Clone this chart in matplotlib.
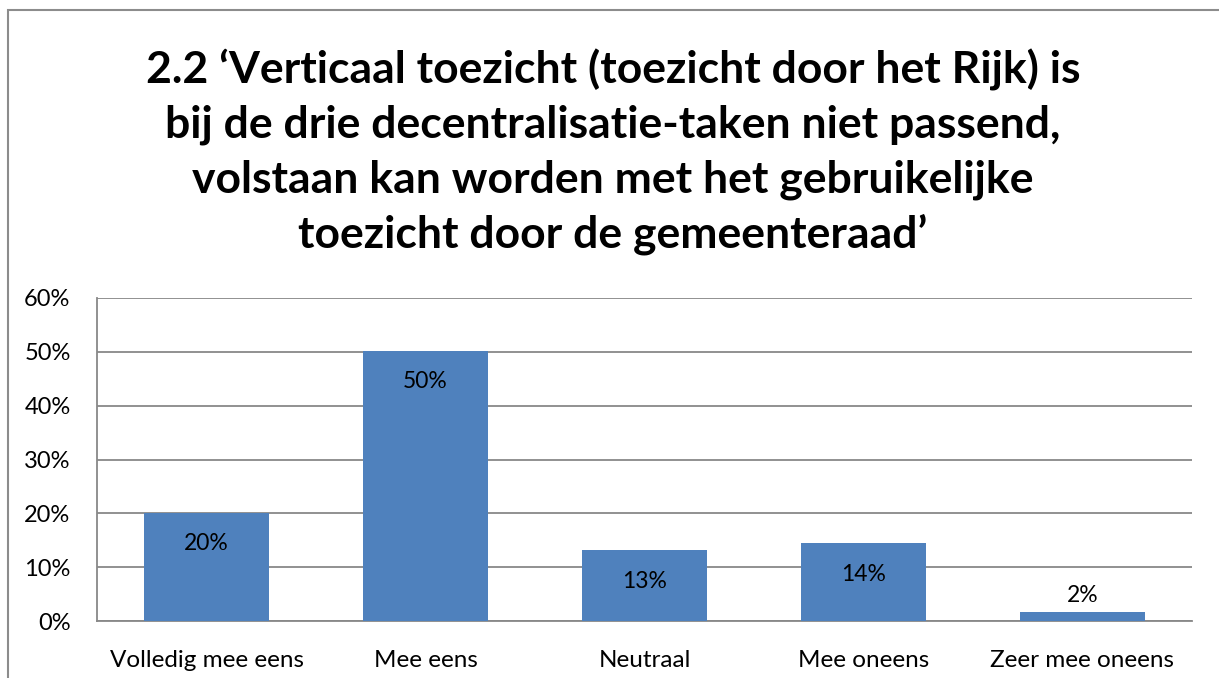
import matplotlib
matplotlib.use("Agg")
import matplotlib.pyplot as plt
from matplotlib.patches import Rectangle

categories = ["Volledig mee eens", "Mee eens", "Neutraal", "Mee oneens", "Zeer mee oneens"]
values = [20.1, 50.2, 13.1, 14.4, 1.7]
labels = ["20%", "50%", "13%", "14%", "2%"]
yticks = [0, 10, 20, 30, 40, 50, 60]
title = ("2.2 \u2018Verticaal toezicht (toezicht door het Rijk) is\n"
         "bij de drie decentralisatie-taken niet passend,\n"
         "volstaan kan worden met het gebruikelijke\n"
         "toezicht door de gemeenteraad\u2019")

plt.rcParams['font.family'] = ['Lato', 'DejaVu Sans']
W, H = 1219, 678
fig = plt.figure(figsize=(W / 100, H / 100), dpi=100)

# outer chart frame
fig.patches.append(Rectangle((8 / W, -0.1), 1.2, (H - 10) / H + 0.1, transform=fig.transFigure,
                             fill=False, edgecolor="#8c8c8c", linewidth=1.5))

left, right, top, bottom = 97, 1192, 298, 621
ax = fig.add_axes([left / W, 1 - bottom / H, (right - left) / W, (bottom - top) / H])
x = range(len(categories))
ax.bar(x, values, width=0.57, color="#4F81BD", zorder=3)
ax.set_xlim(-0.5, len(categories) - 0.5)
ax.set_ylim(0, 60)
ax.set_yticks(yticks)
ax.set_yticklabels([f"{t}%" for t in yticks], fontsize=17)
ax.set_xticks(list(x))
ax.set_xticklabels(categories, fontsize=17.5)
ax.tick_params(axis='y', length=0, pad=19)
ax.tick_params(axis='x', length=0, pad=21)
ax.grid(axis='y', color="#888888", linewidth=1.3, zorder=0)
for s in ["top", "right"]:
    ax.spines[s].set_visible(False)
for s in ["left", "bottom"]:
    ax.spines[s].set_color("#888888")
    ax.spines[s].set_linewidth(1.3)

for i, (v, lab) in enumerate(zip(values, labels)):
    if v > 5:
        ax.annotate(lab, (i, v), xytext=(0, -31), textcoords="offset pixels",
                    ha="center", va="center", fontsize=16.5, zorder=4)
    else:
        ax.annotate(lab, (i, v), xytext=(0, 16), textcoords="offset pixels",
                    ha="center", va="center", fontsize=16.5, zorder=4)

fig.text(613 / W, 1 - 152 / H, title, ha="center", va="center", fontsize=32,
         fontweight="bold", linespacing=1.42)

fig.savefig("out.png", dpi=100)
